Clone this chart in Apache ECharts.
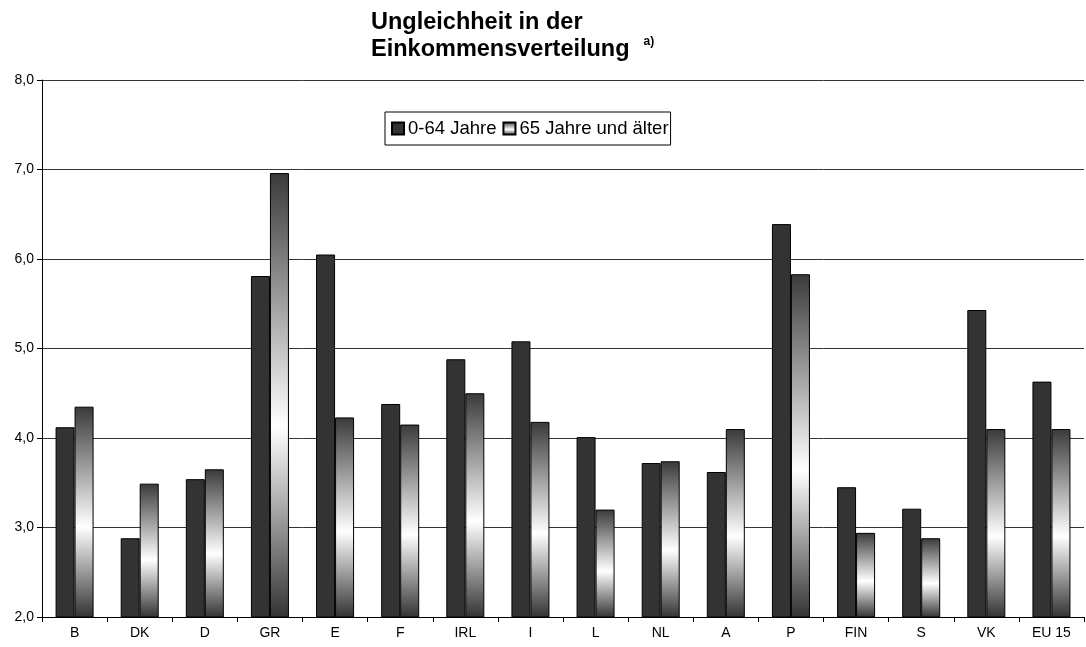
<!DOCTYPE html>
<html>
<head>
<meta charset="utf-8">
<script src="https://cdn.jsdelivr.net/npm/echarts@6/dist/echarts.min.js"></script>
<style>
    html, body { margin: 0; padding: 0; background: #fff; }
    #chart { width: 1086px; height: 647px; }
</style>
</head>
<body>
<div id="chart"></div>
<script>
const countries = ["B", "DK", "D", "GR", "E", "F", "IRL", "I", "L", "NL", "A", "P", "FIN", "S", "VK", "EU 15"];
const young = [4.12, 2.88, 3.54, 5.81, 6.05, 4.38, 4.88, 5.08, 4.01, 3.72, 3.62, 6.39, 3.45, 3.21, 5.43, 4.63];
const old = [4.35, 3.49, 3.65, 6.96, 4.23, 4.15, 4.50, 4.18, 3.20, 3.74, 4.10, 5.83, 2.94, 2.88, 4.10, 4.10];
const seriesNames = ["0-64 Jahre", "65 Jahre und älter"];

const font = "Liberation Sans, Arial, sans-serif";

let myChart = echarts.init(document.getElementById("chart"));

let metal = new echarts.graphic.LinearGradient(0, 0, 0, 1, [
    { offset: 0, color: "#3a3a3a" },
    { offset: 0.57, color: "#ffffff" },
    { offset: 1, color: "#333333" }
]);

let option = {
    animation: false,
    title: {
        text: "{t|Ungleichheit in der}\n{t|Einkommensverteilung} {s|a)}",
        left: 366,
        top: 4,
        textStyle: {
            rich: {
                t: { fontFamily: font, fontSize: 23.5, fontWeight: "bold", color: "#000", lineHeight: 27 },
                s: { fontFamily: font, fontSize: 12, fontWeight: "bold", color: "#000", padding: [0, 0, 16, 9] }
            }
        }
    },
    legend: {
        left: 385,
        top: 112,
        orient: "horizontal",
        borderColor: "#000",
        borderWidth: 1,
        padding: [7, 2, 7, 6],
        itemWidth: 12,
        itemHeight: 12,
        itemGap: 6,
        icon: "rect",
        textStyle: { fontFamily: font, fontSize: 18.5, color: "#000", padding: [0, 0, 0, -1] },
        data: seriesNames
    },
    grid: {
        left: 42,
        right: 2,
        top: 80,
        bottom: 30
    },
    xAxis: {
        type: "category",
        data: countries,
        axisLine: { lineStyle: { color: "#000", width: 1 } },
        axisTick: { show: true, length: 5, lineStyle: { color: "#000" } },
        axisLabel: { fontFamily: font, fontSize: 14, color: "#000", margin: 9 }
    },
    yAxis: {
        type: "value",
        min: 2,
        max: 8,
        interval: 1,
        axisLine: { show: true, lineStyle: { color: "#000", width: 1 } },
        axisTick: { show: true, length: 5, lineStyle: { color: "#000" } },
        axisLabel: {
            fontFamily: font,
            fontSize: 14,
            color: "#000",
            margin: 8,
            formatter: v => v.toFixed(1).replace(".", ",")
        },
        splitLine: { lineStyle: { color: "#333", width: 1 } }
    },
    series: [
        {
            name: seriesNames[0],
            type: "bar",
            barWidth: 19,
            barGap: "0%",
            itemStyle: { color: "#333333", borderColor: "#000", borderWidth: 1 },
            data: young
        },
        {
            name: seriesNames[1],
            type: "bar",
            barWidth: 19,
            barGap: "0%",
            itemStyle: { color: metal, borderColor: "#000", borderWidth: 1 },
            data: old
        }
    ]
};

myChart.setOption(option);
</script>
</body>
</html>
